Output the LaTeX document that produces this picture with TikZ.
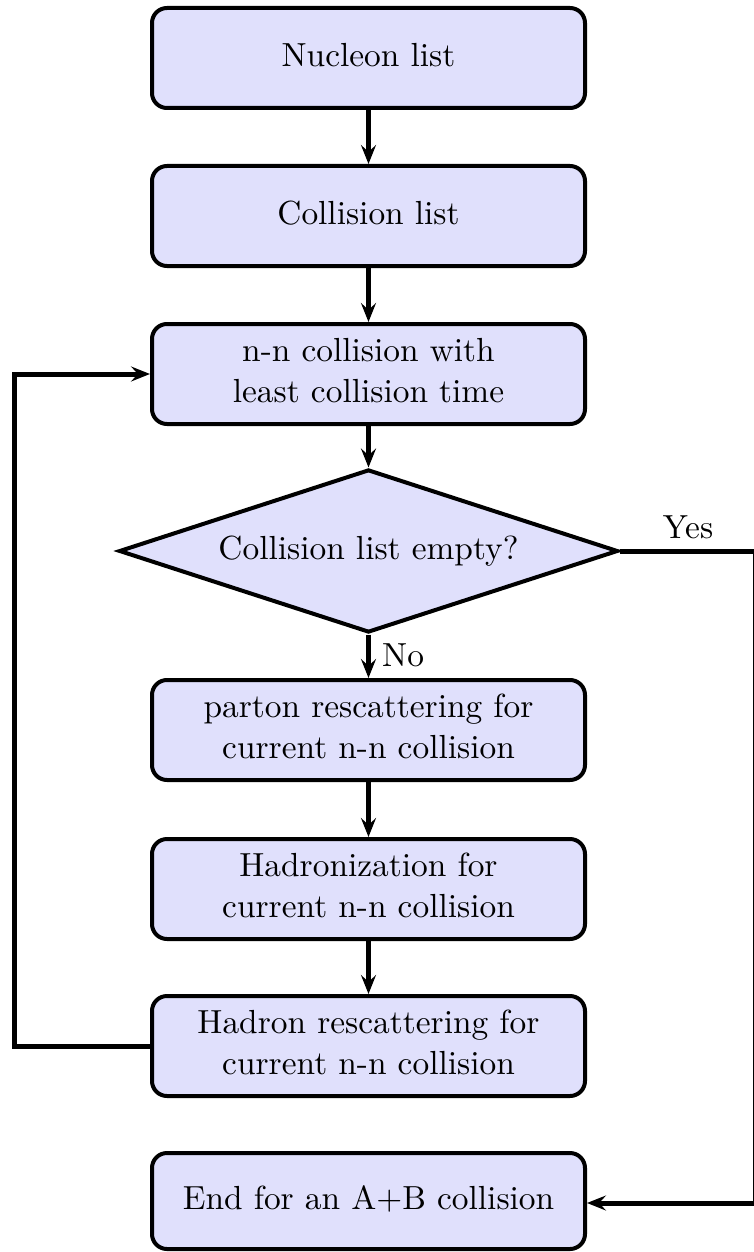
\documentclass[tikz,border=0pt]{standalone}
\usepackage{graphicx}
\usetikzlibrary{shapes.geometric,arrows.meta}
\definecolor{boxfill}{RGB}{224,224,252}
\newcommand{\tx}[1]{\scalebox{3.34}{\begin{tabular}{@{}c@{}}#1\end{tabular}}}
\begin{document}
\begin{tikzpicture}[x=1pt,y=-1pt,
  every node/.style={font=\fontsize{10}{12}\selectfont},
  procbox/.style={draw=black, line width=4pt, fill=boxfill, rounded corners=15pt,
    minimum width=433pt, minimum height=100pt, align=center, inner sep=0pt},
  decbox/.style={draw=black, line width=4pt, fill=boxfill, diamond, aspect=3.06,
    minimum width=499pt, minimum height=163pt, inner sep=0pt},
  conn/.style={line width=5pt, -{Stealth[length=19pt, width=15pt, inset=7pt]}}]
\useasboundingbox (0,0) rectangle (753,1252);
\node[procbox] (n1) at (368.5,58) {\tx{Nucleon list}};
\node[procbox] (n2) at (368.5,216) {\tx{Collision list}};
\node[procbox] (n3) at (368.5,374) {\tx{n-n collision with\\least collision time}};
\node[decbox] (d) at (368.5,551) {\tx{Collision list empty?}};
\node[procbox] (n4) at (368.5,730) {\tx{parton rescattering for\\current n-n collision}};
\node[procbox] (n5) at (368.5,889) {\tx{Hadronization for\\current n-n collision}};
\node[procbox] (n6) at (368.5,1046) {\tx{Hadron rescattering for\\current n-n collision}};
\node[procbox, minimum height=96pt] (n7) at (368.5,1201) {\tx{End for an A+B collision}};
\draw[conn] (n1) -- (n2);
\draw[conn] (n2) -- (n3);
\draw[conn] (n3) -- (d);
\draw[conn] (d) -- (n4);
\node[anchor=west, inner sep=0pt] (no) at (382,658) {\tx{No}};
\draw[conn] (n4) -- (n5);
\draw[conn] (n5) -- (n6);
\coordinate (l1) at (14,1046);
\coordinate (l2) at (14,374);
\draw[conn, line join=miter] (n6.west) -- (l1) -- (l2) -- (n3.west);
\coordinate (r1) at (755,551);
\coordinate (r2) at (755,1203);
\draw[conn, line join=miter] (d.east) -- (r1) -- (r2) -- (n7.east |- r2);
\node[inner sep=0pt] (yes) at (688,530) {\tx{Yes}};
\end{tikzpicture}
\end{document}
